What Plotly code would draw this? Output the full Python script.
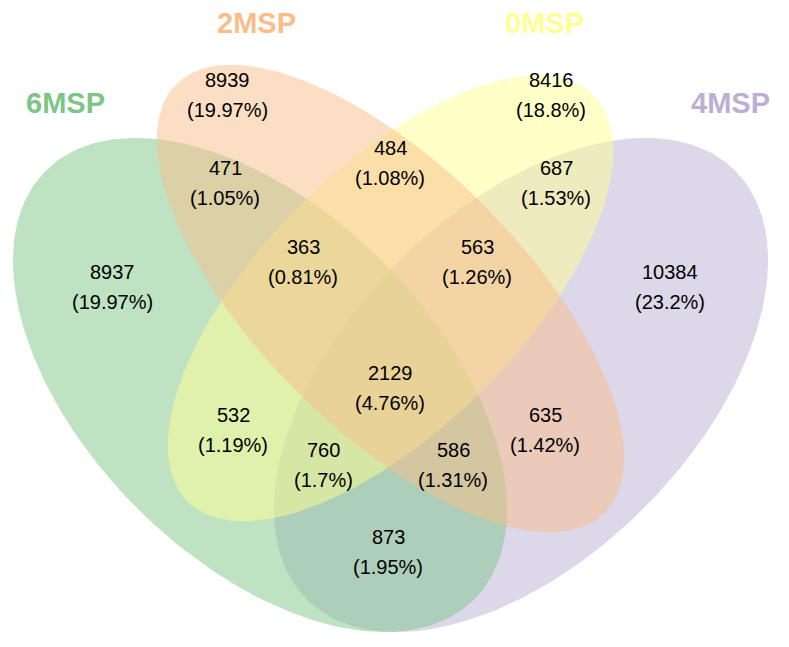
import numpy as np
import plotly.graph_objects as go

# sets
set_names = ['6MSP', '2MSP', '0MSP', '4MSP']
set_colors = ['#7DC585', '#F9BD89', '#FFFF91', '#BBAFD5']

# region counts (set membership -> count)
regions = ['6MSP', '2MSP', '0MSP', '4MSP',
           '6MSP&2MSP', '2MSP&0MSP', '0MSP&4MSP',
           '6MSP&2MSP&0MSP', '2MSP&0MSP&4MSP', 'all',
           '6MSP&0MSP', '2MSP&4MSP',
           '6MSP&0MSP&4MSP', '6MSP&2MSP&4MSP', '6MSP&4MSP']
counts = [8937, 8939, 8416, 10384,
          471, 484, 687,
          363, 563, 2129,
          532, 635,
          760, 586, 873]

# layout (pixel space of the page)
label_pos = [(112, 272), (227, 80), (551, 80), (670, 272),
             (225, 168), (390, 148), (556, 168),
             (303, 247), (477, 247), (390, 373),
             (233, 415), (545, 415),
             (323, 450), (453, 450), (388, 537)]
title_pos = [(65, 103), (256, 23), (544, 23), (730, 103)]
# ellipse: cx, cy, a, b, angle(deg, screen coords)
ellipses = [(260, 385, 303, 174, 45),
            (390.5, 298.5, 303, 132, 45),
            (390.5, 298.5, 287, 130, -45),
            (521, 385, 303, 174, -45)]

PAD = 8  # page body margin


def rgba(hexc, a):
    h = hexc.lstrip('#')
    return 'rgba(%d,%d,%d,%s)' % (int(h[0:2], 16), int(h[2:4], 16), int(h[4:6], 16), a)


def ellipse_xy(cx, cy, a, b, ang):
    t = np.linspace(0, 2 * np.pi, 240)
    th = np.deg2rad(ang)
    x = cx + a * np.cos(t) * np.cos(th) - b * np.sin(t) * np.sin(th)
    y = cy + a * np.cos(t) * np.sin(th) + b * np.sin(t) * np.cos(th)
    return x, y


fig = go.Figure()
# draw order: 4MSP, 6MSP, 0MSP, 2MSP
for i in [3, 0, 2, 1]:
    x, y = ellipse_xy(*ellipses[i])
    fig.add_trace(go.Scatter(x=x, y=y, mode='lines', fill='toself',
                             fillcolor=rgba(set_colors[i], 0.5),
                             line=dict(width=0), hoverinfo='skip',
                             showlegend=False))

total = sum(counts)
font = dict(size=20, color='black', family='Liberation Sans, Arial')
for c, (px, py) in zip(counts, label_pos):
    pct = '(%s%%)' % ('%g' % round(100 * c / total, 2))
    fig.add_annotation(x=px, y=py, text=str(c), showarrow=False, font=font)
    fig.add_annotation(x=px, y=py + 30, text=pct, showarrow=False, font=font)

for name, col, (px, py) in zip(set_names, set_colors, title_pos):
    fig.add_annotation(x=px, y=py, text='<b>%s</b>' % name, showarrow=False,
                       font=dict(size=29, color=col, family='Liberation Sans, Arial'))

fig.update_layout(width=789 - PAD, height=647 - PAD, margin=dict(l=0, r=0, t=0, b=0),
                  plot_bgcolor='white', paper_bgcolor='white',
                  xaxis=dict(range=[PAD, 789], visible=False),
                  yaxis=dict(range=[647, PAD], visible=False))

fig.write_html('out.html')
